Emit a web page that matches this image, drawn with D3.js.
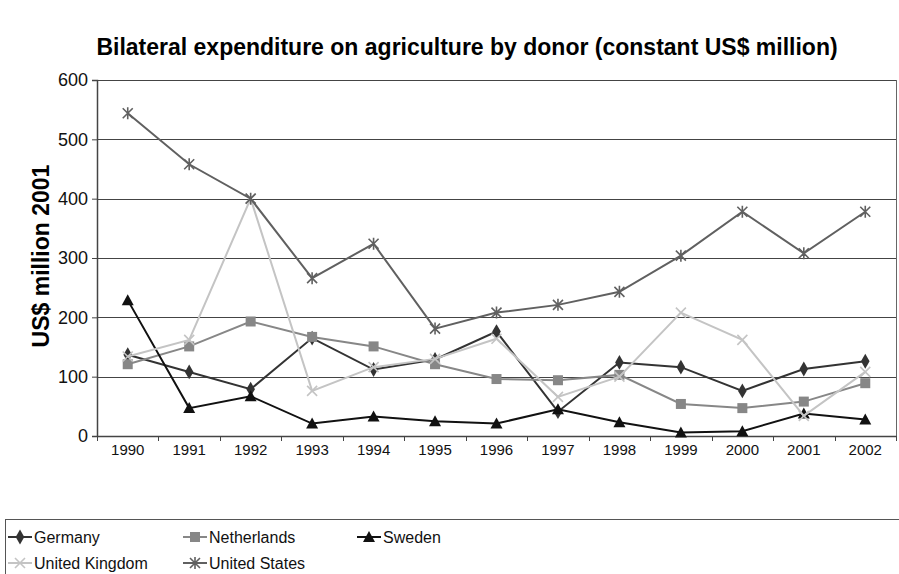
<!DOCTYPE html>
<html><head><meta charset="utf-8">
<script src="https://cdn.jsdelivr.net/npm/d3@7"></script>
<style>body{margin:0;background:#fff;font-family:"Liberation Sans",Arial,sans-serif}</style>
</head><body><svg id="c" width="899" height="574"></svg>
<script>
const years = ["1990","1991","1992","1993","1994","1995","1996","1997","1998","1999","2000","2001","2002"];
const germany     = [137,108,79,165,112,129,176,41,124,116,76,113,126];
const netherlands = [121,151,193,167,151,121,96,94,103,54,47,58,89];
const sweden      = [229,47,67,21,33,25,21,45,23,6,8,38,28];
const uk          = [134,162,400,76,116,130,164,66,100,208,162,34,108];
const us          = [544,458,400,266,324,181,208,221,243,304,378,308,378];
const yTicks = [0,100,200,300,400,500,600];

const series = [
  {name:"Germany", values:germany, color:"#333333", marker:"diamond"},
  {name:"Netherlands", values:netherlands, color:"#878787", marker:"square"},
  {name:"Sweden", values:sweden, color:"#111111", marker:"triangle"},
  {name:"United Kingdom", values:uk, color:"#c4c4c4", marker:"x"},
  {name:"United States", values:us, color:"#606060", marker:"star"}
];

const svg = d3.select("#c");
const L=97, R=896, T=80, B=436;
const x = d3.scaleBand().domain(years).range([L,R]);
const y = d3.scaleLinear().domain([0,600]).range([B,T]);

svg.append("text").attr("x",467).attr("y",55).attr("text-anchor","middle")
  .style("font-weight","bold").style("font-size","23px").text("Bilateral expenditure on agriculture by donor (constant US$ million)");

// gridlines
svg.append("g").selectAll("line").data(yTicks.filter(d=>d>0)).join("line")
  .attr("x1",L).attr("x2",R).attr("y1",d=>Math.round(y(d))+0.5).attr("y2",d=>Math.round(y(d))+0.5)
  .attr("stroke","#444").attr("stroke-width",1);
// right border
svg.append("line").attr("x1",R+0.5).attr("x2",R+0.5).attr("y1",T).attr("y2",B).attr("stroke","#666");

const yAxis = svg.append("g").attr("transform",`translate(${L},0)`)
  .call(d3.axisLeft(y).tickValues(yTicks).tickSize(5).tickPadding(4).tickFormat(d3.format("d")));
yAxis.select(".domain").attr("stroke","#444").attr("stroke-width",1.5);
yAxis.selectAll(".tick line").attr("stroke","#444");
yAxis.selectAll("text").style("font-size","18px").style("font-family","Liberation Sans, Arial").attr("fill","#111");

const xAxis = svg.append("g").attr("transform",`translate(0,${B})`)
  .call(d3.axisBottom(x).tickSize(0).tickPadding(8));
xAxis.select(".domain").attr("stroke","#444").attr("stroke-width",1.5);
xAxis.selectAll("text").style("font-size","15px").style("font-family","Liberation Sans, Arial").attr("fill","#111");
// tick marks at band boundaries
svg.append("g").selectAll("line").data(d3.range(years.length+1)).join("line")
  .attr("x1",i=>Math.round(L+i*x.step())+0.5).attr("x2",i=>Math.round(L+i*x.step())+0.5)
  .attr("y1",B).attr("y2",B+5).attr("stroke","#444");

svg.append("text").attr("transform","translate(49,256) rotate(-90)").attr("text-anchor","middle")
  .style("font-weight","bold").style("font-size","23px").text("US$ million 2001");

function drawMarker(g, type, color, cx, cy){
  if(type==="diamond"){
    g.append("path").attr("d",d3.symbol(d3.symbolDiamond, 64)()).attr("transform",`translate(${cx},${cy})`).attr("fill",color);
  } else if(type==="square"){
    g.append("rect").attr("x",cx-5).attr("y",cy-5).attr("width",10).attr("height",10).attr("fill",color);
  } else if(type==="triangle"){
    g.append("path").attr("d",`M${cx},${cy-6}L${cx+6},${cy+5}L${cx-6},${cy+5}Z`).attr("fill",color);
  } else if(type==="x"){
    g.append("path").attr("d",`M${cx-5},${cy-5}L${cx+5},${cy+5}M${cx+5},${cy-5}L${cx-5},${cy+5}`).attr("stroke",color).attr("stroke-width",1.6);
  } else if(type==="star"){
    g.append("path").attr("d",`M${cx-5},${cy-5}L${cx+5},${cy+5}M${cx+5},${cy-5}L${cx-5},${cy+5}M${cx},${cy-6}L${cx},${cy+6}`).attr("stroke",color).attr("stroke-width",1.6);
  }
}

const line = d3.line().x((d,i)=>x(years[i])+x.bandwidth()/2).y(d=>y(d));
const plot = svg.append("g");
series.forEach(s=>{
  plot.append("path").datum(s.values).attr("d",line).attr("fill","none").attr("stroke",s.color).attr("stroke-width",2);
  const mg = plot.append("g");
  s.values.forEach((v,i)=>drawMarker(mg,s.marker,s.color,x(years[i])+x.bandwidth()/2,y(v)));
});

// legend
svg.append("rect").attr("x",5.5).attr("y",519.5).attr("width",900).attr("height",70).attr("fill","none").attr("stroke","#555");
const legPos = [[8,537],[183,537],[357,537],[8,563],[183,563]];
series.forEach((s,i)=>{
  const [lx,ly]=legPos[i];
  const g = svg.append("g");
  g.append("line").attr("x1",lx).attr("x2",lx+24).attr("y1",ly).attr("y2",ly).attr("stroke",s.color).attr("stroke-width",2);
  drawMarker(g,s.marker,s.color,lx+12,ly);
  g.append("text").attr("x",lx+26).attr("y",ly+5.5).style("font-size","16px").attr("fill","#111").text(s.name);
});
</script></body></html>
